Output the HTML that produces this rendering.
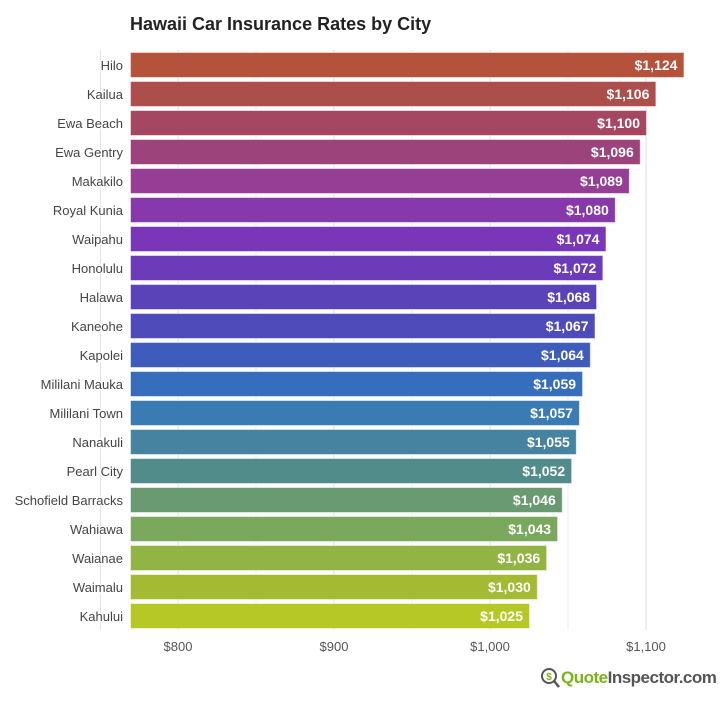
<!DOCTYPE html>
<html><head><meta charset="utf-8"><style>
body{margin:0;background:#fff;width:724px;height:700px;overflow:hidden;font-family:"Liberation Sans",sans-serif}
</style></head><body>
<svg id="chart" width="724" height="700" xmlns="http://www.w3.org/2000/svg" font-family="Liberation Sans, sans-serif">
<text x="130" y="30" font-size="18" font-weight="bold" fill="#222">Hawaii Car Insurance Rates by City</text>
<line x1="100.5" y1="50" x2="100.5" y2="630" stroke="#e4e4e4"/>
<g id="grid"></g><g id="bars"></g><g id="xticks"></g>
<g>
<circle cx="549" cy="676" r="7" fill="none" stroke="#555" stroke-width="2"/>
<line x1="554" y1="681" x2="559" y2="687" stroke="#555" stroke-width="2.5"/>
<text x="549" y="680" font-size="10" font-weight="bold" fill="#7ab317" text-anchor="middle">$</text>
<text x="561" y="683" font-size="17" font-weight="bold" letter-spacing="-0.5"><tspan fill="#7ab317">Quote</tspan><tspan fill="#555">Inspector.com</tspan></text>
</g>
</svg>
<script>
const cities=["Hilo","Kailua","Ewa Beach","Ewa Gentry","Makakilo","Royal Kunia","Waipahu","Honolulu","Halawa","Kaneohe","Kapolei","Mililani Mauka","Mililani Town","Nanakuli","Pearl City","Schofield Barracks","Wahiawa","Waianae","Waimalu","Kahului"];
const rates=[1124,1106,1100,1096,1089,1080,1074,1072,1068,1067,1064,1059,1057,1055,1052,1046,1043,1036,1030,1025];
const tickValues=[800,900,1000,1100];
const tickLabels=["$800","$900","$1,000","$1,100"];
const colors=["#b5523b","#ac4f4c","#a54762","#9d437c","#963e95","#8739ab","#7a36b8","#6b3bb9","#5a42b8","#4f4bba","#3e5cbb","#366dbd","#3b7bb3","#4683a0","#528c8a","#6a9a72","#7aa85c","#92b444","#a4ba32","#b5c826"];
const ns="http://www.w3.org/2000/svg";
const x0=178,k=1.56;
function x(v){return x0+(v-800)*k;}
function yRow(i){return 52+i*29;}
const grid=document.getElementById('grid'),bars=document.getElementById('bars'),xt=document.getElementById('xticks');
for(let v=750;v<=1150;v+=50){
 if(x(v)<130||x(v)>700)continue;
 const l=document.createElementNS(ns,'line');
 
 
 l.setAttribute('x1',x(v));l.setAttribute('x2',x(v));l.setAttribute('y1',50);l.setAttribute('y2',630);
 l.setAttribute('stroke',v%100===0?'#ddd':'#eee');grid.appendChild(l);
}
tickValues.forEach((v,i)=>{
 const t=document.createElementNS(ns,'text');
 
 
 t.setAttribute('x',x(v));t.setAttribute('y',651);t.setAttribute('font-size',13);t.setAttribute('fill','#555');t.setAttribute('text-anchor','middle');
 t.textContent=tickLabels[i];xt.appendChild(t);
});
cities.forEach((c,i)=>{
 const y=yRow(i);
 const r=document.createElementNS(ns,'rect');
 
 
 r.setAttribute('x',130.5);r.setAttribute('y',y+0.5);r.setAttribute('width',x(rates[i])-130);r.setAttribute('height',25);
 r.setAttribute('fill',colors[i]);r.setAttribute('stroke','rgba(255,255,255,0.5)');bars.appendChild(r);
 const lab=document.createElementNS(ns,'text');
 
 
 lab.setAttribute('x',123);lab.setAttribute('y',y+18);lab.setAttribute('font-size',13);lab.setAttribute('fill','#444');lab.setAttribute('text-anchor','end');
 lab.setAttribute('stroke','#fff');lab.setAttribute('stroke-width','3');lab.setAttribute('paint-order','stroke');
 lab.textContent=c;bars.appendChild(lab);
 const val=document.createElementNS(ns,'text');
 
 
 val.setAttribute('x',x(rates[i])-6);val.setAttribute('y',y+18);val.setAttribute('font-size',14);val.setAttribute('font-weight','bold');val.setAttribute('fill','#fff');val.setAttribute('text-anchor','end');
 val.textContent='$'+rates[i].toLocaleString('en-US');bars.appendChild(val);
});
</script>
</body></html>
